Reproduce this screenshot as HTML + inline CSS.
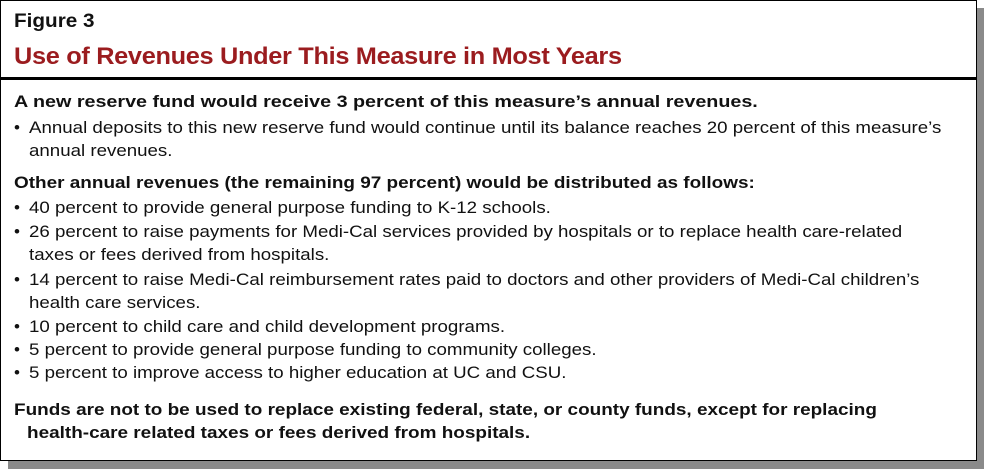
<!DOCTYPE html>
<html><head><meta charset="utf-8"><style>
html,body{margin:0;padding:0;background:#fff;}
body{width:984px;height:469px;position:relative;overflow:hidden;font-family:"Liberation Sans",Arial,sans-serif;color:#111;}
.shadow{position:absolute;left:8px;top:8px;width:976px;height:461px;background:#8a8a8a;}
.box{position:absolute;left:0;top:0;width:975px;height:459px;border:1px solid #000;background:#fff;}
.sep{position:absolute;left:0;top:77px;width:977px;height:3px;background:#000;}
.t{position:absolute;white-space:nowrap;font-size:17px;line-height:20px;transform-origin:0 50%;transform:scaleX(1.10);}
.b{font-weight:bold;transform:scaleX(1.114);}
.fig{font-size:19px;font-weight:bold;top:12px;left:14px;transform:scaleX(1.09);}
.title{font-size:24px;font-weight:bold;color:#9b1c1f;top:47px;left:14px;letter-spacing:-0.3px;transform:scaleX(1.055);}
.d{transform:none;}
</style></head><body>
<div class="shadow"></div>
<div class="box"></div>
<div class="sep"></div>
<div class="t fig">Figure 3</div>
<div class="t title">Use of Revenues Under This Measure in Most Years</div>
<div class="t b" style="left:14px;top:92px;transform:scaleX(1.16)">A new reserve fund would receive 3 percent of this measure’s annual revenues.</div>
<div class="t d" style="left:14px;top:118px">•</div>
<div class="t" style="left:29px;top:118px">Annual deposits to this new reserve fund would continue until its balance reaches 20 percent of this measure’s</div>
<div class="t" style="left:29px;top:141px">annual revenues.</div>
<div class="t b" style="left:14px;top:173px">Other annual revenues (the remaining 97 percent) would be distributed as follows:</div>
<div class="t d" style="left:14px;top:198px">•</div><div class="t" style="left:29px;top:198px">40 percent to provide general purpose funding to K-12 schools.</div>
<div class="t d" style="left:14px;top:222px">•</div><div class="t" style="left:29px;top:222px">26 percent to raise payments for Medi-Cal services provided by hospitals or to replace health care-related</div>
<div class="t" style="left:29px;top:245px">taxes or fees derived from hospitals.</div>
<div class="t d" style="left:14px;top:270px">•</div><div class="t" style="left:29px;top:270px">14 percent to raise Medi-Cal reimbursement rates paid to doctors and other providers of Medi-Cal children’s</div>
<div class="t" style="left:29px;top:293px">health care services.</div>
<div class="t d" style="left:14px;top:317px">•</div><div class="t" style="left:29px;top:317px">10 percent to child care and child development programs.</div>
<div class="t d" style="left:14px;top:340px">•</div><div class="t" style="left:29px;top:340px">5 percent to provide general purpose funding to community colleges.</div>
<div class="t d" style="left:14px;top:363px">•</div><div class="t" style="left:29px;top:363px">5 percent to improve access to higher education at UC and CSU.</div>
<div class="t b" style="left:14px;top:400px">Funds are not to be used to replace existing federal, state, or county funds, except for replacing</div>
<div class="t b" style="left:27px;top:423px">health-care related taxes or fees derived from hospitals.</div>
</body></html>
